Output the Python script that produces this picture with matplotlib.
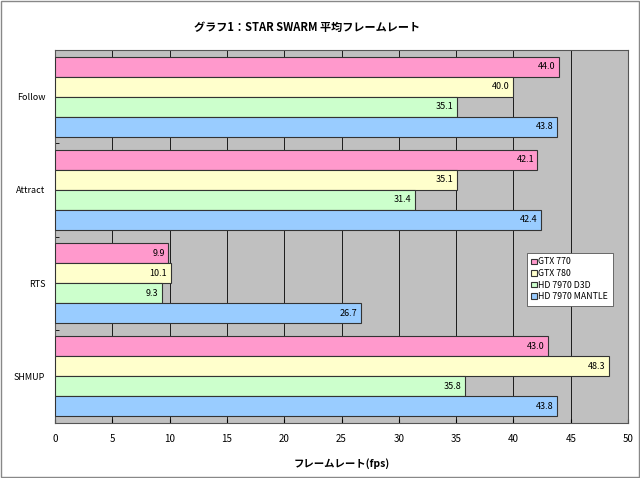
import numpy as np
import matplotlib.pyplot as plt
from matplotlib.patches import Rectangle

plt.rcParams['font.family'] = ['Noto Sans CJK JP', 'DejaVu Sans']

categories = ['Follow', 'Attract', 'RTS', 'SHMUP']
series = ['GTX 770', 'GTX 780', 'HD 7970 D3D', 'HD 7970 MANTLE']
gtx770 = [44.0, 42.1, 9.9, 43.0]
gtx780 = [40.0, 35.1, 10.1, 48.3]
hd_d3d = [35.1, 31.4, 9.3, 35.8]
hd_mantle = [43.8, 42.4, 26.7, 43.8]
colors = ['#FF99CC', '#FFFFCC', '#CCFFCC', '#99CCFF']
xticks = [0, 5, 10, 15, 20, 25, 30, 35, 40, 45, 50]

fig = plt.figure(figsize=(6.4, 4.78), dpi=100)
ax = fig.add_axes([55/640, 1-423/478, 573/640, 373/478])
ax.set_facecolor('#C0C0C0')

h = 0.86/4
y = np.arange(len(categories))
for k, vals in enumerate([gtx770, gtx780, hd_d3d, hd_mantle]):
    pos = y - 0.43 + h*(k+0.5)
    ax.barh(pos, vals, height=h, color=colors[k], edgecolor='#333333',
            linewidth=0.8, label=series[k], zorder=3)
    for p, v in zip(pos, vals):
        ax.text(v-0.3, p, f'{v:.1f}', ha='right', va='center', fontsize=6.5, zorder=4)

ax.set_xlim(0, 50)
ax.set_ylim(3.5, -0.5)
ax.set_xticks(xticks)
ax.set_xticklabels([str(t) for t in xticks], fontsize=7)
ax.set_yticks(y)
ax.set_yticklabels(categories, fontsize=6.5)
ax.set_yticks([0.5, 1.5, 2.5], minor=True)
ax.tick_params(axis='y', which='major', length=0, pad=7)
ax.tick_params(axis='y', which='minor', length=3, direction='in')
ax.tick_params(axis='x', length=3, direction='in', pad=8)
ax.grid(axis='x', color='black', linewidth=0.6, zorder=1)
for s in ax.spines.values():
    s.set_color('#555555')
    s.set_linewidth(0.8)

ax.set_xlabel('フレームレート(fps)', fontsize=7.5, fontweight='bold', labelpad=10)
fig.text(0.48, 1-28/478, 'グラフ1：STAR SWARM 平均フレームレート', ha='center', va='center',
         fontsize=8, fontweight='bold')

leg = ax.legend(loc='upper left', bbox_to_anchor=((527-55)/573, (423-253)/373),
                fontsize=6.3, frameon=True, fancybox=False, framealpha=1,
                edgecolor='#555555', handlelength=0.6, handleheight=0.6,
                handletextpad=0.2, labelspacing=0.3, borderpad=0.5, borderaxespad=0)
leg.get_frame().set_linewidth(0.6)

fig.patches.append(Rectangle((0.002, 0.002), 0.996, 0.996, transform=fig.transFigure,
                             fill=False, edgecolor='#888888', linewidth=1))

fig.savefig('out.png', dpi=100)
